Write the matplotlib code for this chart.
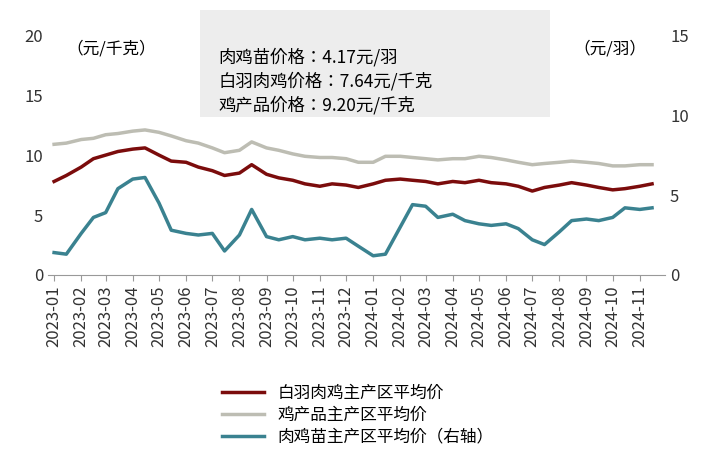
import matplotlib
matplotlib.use("Agg")
import matplotlib.pyplot as plt
from matplotlib import font_manager as fm
import pandas as pd

fam = "DejaVu Sans"
for f in fm.findSystemFonts():
    if "CJK" in f and ("SC" in f or "Regular" in f or ".ttc" in f):
        try:
            fm.fontManager.addfont(f)
            name = fm.FontProperties(fname=f).get_name()
            if "CJK" in name:
                fam = name
                if "SC" in name:
                    break
        except Exception:
            pass
plt.rcParams["font.family"] = ["Noto Sans CJK SC", fam, "DejaVu Sans"]

dates = list(pd.date_range("2023-01-01", "2024-11-30", freq="SMS"))
broiler = [7.8,8.3,9.0,9.7,10.0,10.3,10.5,10.6,10.0,9.5,9.4,9.0,8.7,8.3,8.5,9.2,8.4,8.1,7.9,7.6,7.4,7.6,7.5,7.3,
           7.6,7.9,8.0,7.9,7.8,7.6,7.8,7.7,7.9,7.7,7.6,7.4,7.0,7.3,7.5,7.7,7.5,7.3,7.1,7.2,7.4,7.6]
egg = [10.9,11.0,11.3,11.4,11.7,11.8,12.0,12.1,11.9,11.6,11.2,11.0,10.6,10.2,10.4,11.1,10.6,10.4,10.1,9.9,9.8,9.8,9.7,9.4,
       9.4,9.9,9.9,9.8,9.7,9.6,9.7,9.7,9.9,9.8,9.6,9.4,9.2,9.3,9.4,9.5,9.4,9.3,9.1,9.1,9.2,9.2]
chick = [1.4,1.3,2.6,3.6,3.9,5.4,6.0,6.1,4.5,2.8,2.6,2.5,2.6,1.5,2.5,4.1,2.4,2.2,2.4,2.2,2.3,2.2,2.3,1.8,
         1.2,1.3,3.0,4.4,4.3,3.6,3.8,3.4,3.2,3.1,3.2,2.9,2.2,1.9,2.7,3.4,3.5,3.4,3.6,4.2,4.1,4.2]
months = list(pd.date_range("2023-01-01", "2024-11-01", freq="MS"))
month_labels = [d.strftime("%Y-%m") for d in months]
names = ["白羽肉鸡主产区平均价", "鸡产品主产区平均价", "肉鸡苗主产区平均价（右轴）"]
colors = ["#7B0C0C", "#BDBDB3", "#3A8290"]

fig = plt.figure(figsize=(7.16, 4.70), dpi=100)
ax = fig.add_axes([0.067, 0.415, 0.862, 0.51])
ax2 = ax.twinx()
l1, = ax.plot(dates, broiler, color=colors[0], lw=2.5)
l2, = ax.plot(dates, egg, color=colors[1], lw=2.5)
l3, = ax2.plot(dates, chick, color=colors[2], lw=2.5)
ax.set_ylim(0, 20); ax2.set_ylim(0, 15)
ax.set_yticks([0, 5, 10, 15, 20]); ax2.set_yticks([0, 5, 10, 15])
ax.set_xlim(pd.Timestamp("2022-12-25"), pd.Timestamp("2024-11-30"))
ax.set_xticks(months)
ax.set_xticklabels(month_labels, rotation=90)
for a in (ax, ax2):
    a.tick_params(labelsize=12, length=0, colors="#333333")
    for s in a.spines.values():
        s.set_visible(False)
ax.spines["bottom"].set_visible(True)
ax.spines["bottom"].set_color("#999999")
ax.tick_params(axis="x", length=4, color="#999999")
ax.text(0.03, 0.98, "（元/千克）", transform=ax.transAxes, fontsize=12, va="top")
ax.text(0.97, 0.98, "（元/羽）", transform=ax.transAxes, fontsize=12, va="top", ha="right")
fig.patches.append(plt.Rectangle((0.279, 0.751), 0.489, 0.228, transform=fig.transFigure,
                                 fc="#EDEDED", ec="none", zorder=0))
fig.text(0.305, 0.765, "肉鸡苗价格：4.17元/羽\n白羽肉鸡价格：7.64元/千克\n鸡产品价格：9.20元/千克",
         fontsize=12.5, linespacing=1.35)
fig.legend([l1, l2, l3], names, loc="lower center", bbox_to_anchor=(0.5, 0.02),
           frameon=False, fontsize=12, handlelength=2.5, labelspacing=0.3)
fig.savefig("out.png", dpi=100)
